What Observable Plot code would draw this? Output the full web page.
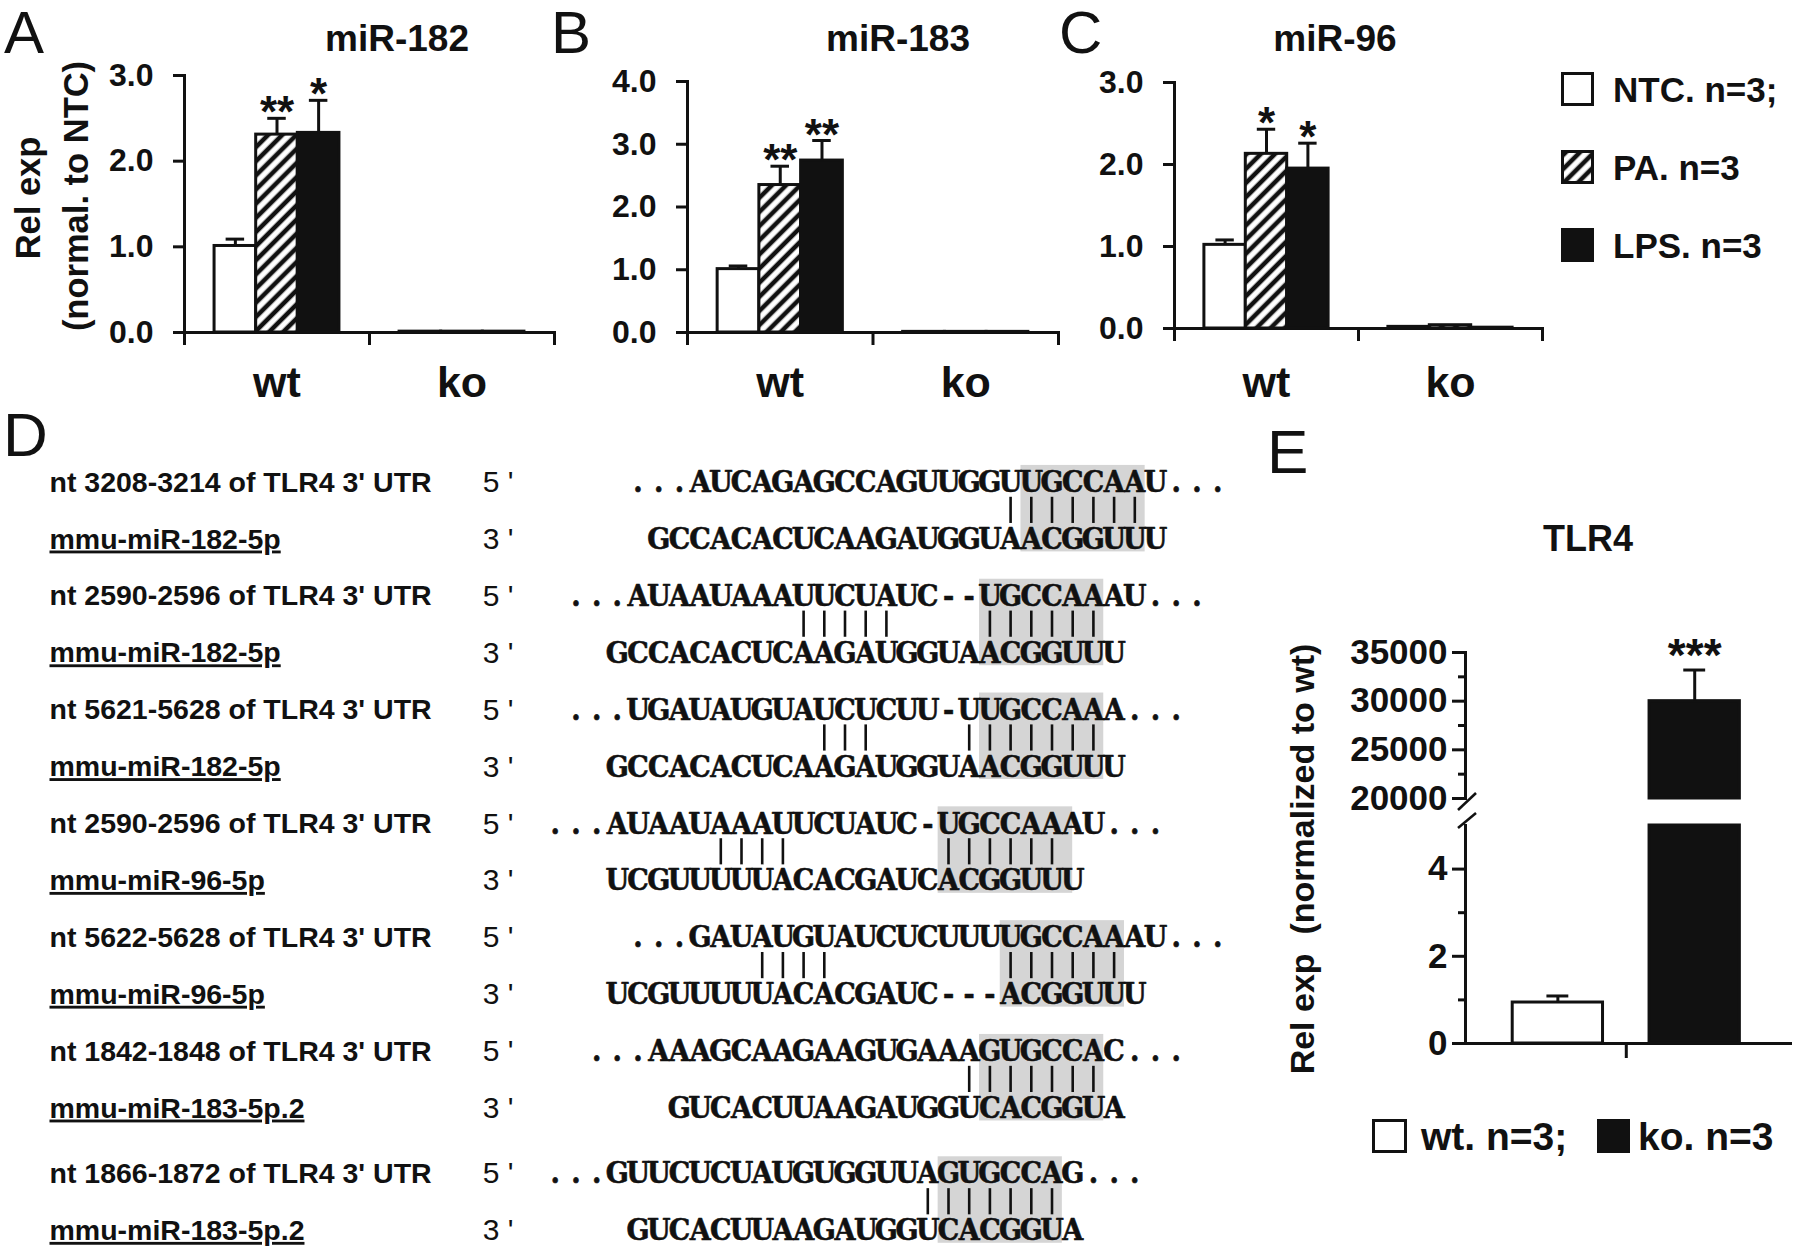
<!DOCTYPE html>
<html><head><meta charset="utf-8">
<script src="https://cdn.jsdelivr.net/npm/d3@7"></script>
<script src="https://cdn.jsdelivr.net/npm/@observablehq/plot@0.6"></script>
<style>
html,body{margin:0;padding:0;background:#fff;}
#fig{position:relative;width:1800px;height:1259px;overflow:hidden;font-family:"Liberation Sans",Arial,sans-serif;color:#111;background:#fff;}
.t{position:absolute;line-height:1;white-space:pre;font-weight:bold;transform:translate(-50%,-50%);}
.tl{position:absolute;line-height:1;white-space:pre;font-weight:bold;transform:translate(0,-50%);}
.letter{position:absolute;line-height:0.8;white-space:pre;font-weight:normal;transform:translate(0,-50%);}
.rot{position:absolute;line-height:1;white-space:pre;font-weight:bold;transform:translate(-50%,-50%) rotate(-90deg);}
.plotwrap{position:absolute;}
.plotwrap svg{max-width:none !important;display:block;}
.bp svg line,.bp svg path{stroke-width:3px;}
</style></head>
<body>
<svg width="0" height="0" style="position:absolute">
  <defs>
    <pattern id="hatch" patternUnits="userSpaceOnUse" width="10" height="10" patternTransform="rotate(45)">
      <rect width="10" height="10" fill="#fff"/>
      <line x1="5" y1="-1" x2="5" y2="11" stroke="#111" stroke-width="4.6"/>
    </pattern>
  </defs>
</svg>
<div id="fig"></div>
<script>
// ---------------- DATA ----------------
const genotypes = ["wt", "ko"];
const treatments = ["NTC", "PA", "LPS"];
const legendLabels = ["NTC. n=3;", "PA. n=3", "LPS. n=3"];

// order: wt-NTC, wt-PA, wt-LPS, ko-NTC, ko-PA, ko-LPS
const mir182Mean = [1.01, 2.31, 2.33, 0.01, 0.01, 0.01];
const mir182Err  = [0.08, 0.19, 0.38, 0, 0, 0];
const mir182Sig  = ["", "**", "*", "", "", ""];

const mir183Mean = [1.01, 2.35, 2.74, 0.01, 0.01, 0.01];
const mir183Err  = [0.05, 0.30, 0.32, 0, 0, 0];
const mir183Sig  = ["", "**", "**", "", "", ""];

const mir96Mean = [1.02, 2.13, 1.95, 0.02, 0.04, 0.01];
const mir96Err  = [0.06, 0.30, 0.31, 0, 0, 0];
const mir96Sig  = ["", "*", "*", "", "", ""];

const ticks3 = [0, 1, 2, 3];
const ticks4 = [0, 1, 2, 3, 4];

// TLR4 (panel E)
const tlrGroups = ["wt", "ko"];
const tlrPos = [1, 2];
const tlrMean = [0.94, 30000];
const tlrErr = [0.15, 3200];
const tlrSig = ["", "***"];
const tlrLegend = ["wt. n=3;", "ko. n=3"];
const tlrUpperTicks = [20000, 25000, 30000, 35000];
const tlrUpperMinor = [22500, 27500, 32500];
const tlrLowerTicks = [0, 2, 4];
const tlrLowerMinor = [1, 3];

// Panel D: alignments
const dLabels = [
  "nt 3208-3214 of TLR4 3' UTR", "mmu-miR-182-5p",
  "nt 2590-2596 of TLR4 3' UTR", "mmu-miR-182-5p",
  "nt 5621-5628 of TLR4 3' UTR", "mmu-miR-182-5p",
  "nt 2590-2596 of TLR4 3' UTR", "mmu-miR-96-5p",
  "nt 5622-5628 of TLR4 3' UTR", "mmu-miR-96-5p",
  "nt 1842-1848 of TLR4 3' UTR", "mmu-miR-183-5p.2",
  "nt 1866-1872 of TLR4 3' UTR", "mmu-miR-183-5p.2"
];
const dEnds = ["5 '", "3 '", "5 '", "3 '", "5 '", "3 '", "5 '", "3 '", "5 '", "3 '", "5 '", "3 '", "5 '", "3 '"];
const dSeqs = [
  "...AUCAGAGCCAGUUGGUUGCCAAU...",
  "GCCACACUCAAGAUGGUAACGGUUU",
  "...AUAAUAAAUUCUAUC--UGCCAAAU...",
  "GCCACACUCAAGAUGGUAACGGUUU",
  "...UGAUAUGUAUCUCUU-UUGCCAAA...",
  "GCCACACUCAAGAUGGUAACGGUUU",
  "...AUAAUAAAUUCUAUC-UGCCAAAU...",
  "UCGUUUUUACACGAUCACGGUUU",
  "...GAUAUGUAUCUCUUUUGCCAAAU...",
  "UCGUUUUUACACGAUC---ACGGUUU",
  "...AAAGCAAGAAGUGAAAGUGCCAC...",
  "GUCACUUAAGAUGGUCACGGUA",
  "...GUUCUCUAUGUGGUUAGUGCCAG...",
  "GUCACUUAAGAUGGUCACGGUA"
];
const dSeqStart = [0, 1, -3, -1, -3, -1, -4, -1, 0, -1, -2, 2, -4, 0];
const dRowPos = [0, 1, 2, 3, 4, 5, 6, 7, 8, 9, 10, 11, 12.15, 13.15];
const dPairCols = [
  [18, 19, 20, 21, 22, 23, 24],
  [8, 9, 10, 11, 12, 17, 18, 19, 20, 21, 22],
  [9, 10, 11, 16, 17, 18, 19, 20, 21, 22],
  [4, 5, 6, 7, 15, 16, 17, 18, 19, 20],
  [6, 7, 8, 9, 18, 19, 20, 21, 22, 23],
  [16, 17, 18, 19, 20, 21, 22],
  [14, 15, 16, 17, 18, 19, 20]
];
const dSeedCols = [[18.5, 24.5], [16.5, 22.5], [16.5, 22.5], [14.5, 21], [17.5, 23.5], [16.5, 22.5], [14.5, 20.5]];

// ---------------- HELPERS ----------------
const FONT = '"Liberation Sans", Arial, sans-serif';
const INK = "#111";
const treatmentFill = ["#fff", "url(#hatch)", INK];
const fig = document.getElementById("fig");

function place(svg, left, top, w, h, cls) {
  const d = document.createElement("div");
  d.className = "plotwrap" + (cls ? " " + cls : "");
  Object.assign(d.style, {left: left + "px", top: top + "px", width: w + "px", height: h + "px"});
  d.appendChild(svg);
  fig.appendChild(d);
}
function txt(cls, s, x, y, size, extra) {
  const d = document.createElement("div");
  d.className = cls;
  d.textContent = s;
  Object.assign(d.style, {left: x + "px", top: y + "px", fontSize: size + "px"}, extra || {});
  fig.appendChild(d);
}
function swatch(x, y, w, h, fill) {
  const ns = "http://www.w3.org/2000/svg";
  const s = document.createElementNS(ns, "svg");
  s.setAttribute("width", w); s.setAttribute("height", h);
  s.style.position = "absolute"; s.style.left = x + "px"; s.style.top = y + "px";
  const r = document.createElementNS(ns, "rect");
  r.setAttribute("x", 1.5); r.setAttribute("y", 1.5);
  r.setAttribute("width", w - 3); r.setAttribute("height", h - 3);
  r.setAttribute("fill", fill); r.setAttribute("stroke", INK); r.setAttribute("stroke-width", 3);
  s.appendChild(r);
  fig.appendChild(s);
}

function barPanel(o) {
  const bw = 0.225, cap = 0.05;
  const rows = [];
  genotypes.forEach((g, gi) => treatments.forEach((t, ti) => {
    const k = gi * 3 + ti;
    const xc = gi + 0.5 + (ti - 1) * bw;
    rows.push({g, t, mean: o.mean[k], err: o.err[k], sig: o.sig[k], xc, x1: xc - bw / 2, x2: xc + bw / 2, fill: treatmentFill[ti]});
  }));
  const withErr = rows.filter(d => d.err > 0);
  const svg = Plot.plot({
    width: o.width, height: o.height,
    marginLeft: o.mLeft, marginRight: o.mRight, marginTop: o.mTop, marginBottom: o.mBottom,
    style: {background: "transparent", fontFamily: FONT, fontSize: "32px", fontWeight: "bold", color: INK},
    x: {domain: [0, 2], ticks: [0, 1, 2], tickFormat: () => "", tickSize: 13, line: true, label: null},
    y: {domain: [0, o.yMax], ticks: o.ticks, tickFormat: d3.format(".1f"), tickSize: 11, tickPadding: 20, line: true, label: null},
    color: {type: "identity"},
    marks: [
      Plot.rect(rows, {x1: "x1", x2: "x2", y1: 0, y2: "mean", fill: "fill", stroke: INK, strokeWidth: 3}),
      Plot.ruleX(withErr, {x: "xc", y1: "mean", y2: d => d.mean + d.err, stroke: INK}),
      Plot.ruleY(withErr, {y: d => d.mean + d.err, x1: d => d.xc - cap, x2: d => d.xc + cap, stroke: INK}),
      Plot.text(withErr.filter(d => d.sig), {x: "xc", y: d => d.mean + d.err, text: "sig", dy: -5, fontSize: 44, fontWeight: "bold"}),
      Plot.text(genotypes, {x: (d, i) => i + 0.5, frameAnchor: "bottom", lineAnchor: "bottom", text: d => d, dy: o.labelDy, fontSize: 43, fontWeight: "bold"})
    ]
  });
  place(svg, o.left, 0, o.width, o.height, "bp");
}

// ---------------- PANELS A-C ----------------
barPanel({mean: mir182Mean, err: mir182Err, sig: mir182Sig, yMax: 3, ticks: ticks3,
  left: 0, width: 600, height: 420, mLeft: 184, mRight: 46, mTop: 75, mBottom: 88, labelDy: 64});
barPanel({mean: mir183Mean, err: mir183Err, sig: mir183Sig, yMax: 4, ticks: ticks4,
  left: 540, width: 560, height: 420, mLeft: 147, mRight: 42, mTop: 81, mBottom: 88, labelDy: 64});
barPanel({mean: mir96Mean, err: mir96Err, sig: mir96Sig, yMax: 3, ticks: ticks3,
  left: 1040, width: 560, height: 420, mLeft: 134, mRight: 58, mTop: 82, mBottom: 92, labelDy: 68});

// panel letters & titles
txt("letter", "A", 4, 33, 60);
txt("letter", "B", 551, 33, 60);
txt("letter", "C", 1059, 33, 60);
txt("letter", "D", 3, 435, 62);
txt("letter", "E", 1267, 452, 62);
txt("t", "miR-182", 397, 38, 37);
txt("t", "miR-183", 898, 38, 37);
txt("t", "miR-96", 1335, 38, 37);
txt("rot", "Rel exp", 28, 198, 34.5);
txt("rot", "(normal. to NTC)", 76, 196, 34.5);

// legend A-C
const legTops = [72, 150, 228];
legendLabels.forEach((l, i) => {
  swatch(1561, legTops[i], 33, 34, treatmentFill[i]);
  txt("tl", l, 1613, legTops[i] + 17, 35);
});

// ---------------- PANEL D ----------------
(function () {
  const chars = [];
  dSeqs.forEach((s, r) => [...s].forEach((ch, i) => chars.push({ch, col: dSeqStart[r] + i, row: dRowPos[r]})));
  const pipes = [];
  dPairCols.forEach((cols, b) => cols.forEach(c => pipes.push({col: c, row: dRowPos[2 * b]})));
  const boxes = dSeedCols.map((s, b) => ({c1: s[0], c2: s[1], r1: dRowPos[2 * b] - 0.3, r2: dRowPos[2 * b + 1] + 0.22}));
  const rowsData = dLabels.map((l, r) => ({label: l, end: dEnds[r], row: dRowPos[r]}));
  const svg = Plot.plot({
    width: 1240, height: 819, margin: 0,
    style: {background: "transparent", fontFamily: FONT, color: INK},
    x: {domain: [-30.797, 29.106], range: [0, 1240], axis: null},
    y: {domain: [-0.738, 13.655], range: [0, 819], axis: null},
    marks: [
      Plot.rect(boxes, {x1: "c1", x2: "c2", y1: "r1", y2: "r2", fill: "#d5d5d5"}),
      Plot.ruleX(pipes, {x: "col", y1: d => d.row + 0.26, y2: d => d.row + 0.72, stroke: INK, strokeWidth: 2.6}),
      Plot.text(chars, {x: "col", y: "row", text: "ch", fontSize: 30, fontWeight: "bold",
        fontFamily: '"DejaVu Serif Condensed", "DejaVu Serif", serif', fill: INK, stroke: INK, strokeWidth: 0.6}),
      Plot.text(rowsData, {x: -28.43, y: "row", text: "label", textAnchor: "start", fontSize: 28.5, fontWeight: "bold", fill: INK}),
      Plot.text(rowsData, {x: -7.5, y: "row", text: "end", textAnchor: "start", fontSize: 30, fill: INK})
    ]
  });
  d3.select(svg).selectAll("text").filter(function () { return this.textContent.startsWith("mmu"); })
    .style("text-decoration", "underline");
  place(svg, 0, 440, 1240, 819);
})();

// ---------------- PANEL E ----------------
(function () {
  const half = 0.33, cap = 0.08;
  const rows = tlrGroups.map((g, i) => ({g, pos: tlrPos[i], mean: tlrMean[i], err: tlrErr[i], sig: tlrSig[i], fill: i ? INK : "#fff"}));
  const xDom = [0.325, 2.7];
  const common = {
    width: 560, marginLeft: 225, marginRight: 10,
    style: {background: "transparent", fontFamily: FONT, fontSize: "35px", fontWeight: "bold", color: INK},
    color: {type: "identity"}
  };
  const up = rows.filter(d => d.mean > tlrUpperTicks[0]);
  const upper = Plot.plot({
    ...common, height: 240, marginTop: 52, marginBottom: 42,
    x: {domain: xDom, axis: null},
    y: {domain: [20000, 35000], clamp: true, ticks: tlrUpperTicks, tickFormat: d3.format("d"), tickSize: 13, tickPadding: 5, line: true, label: null},
    marks: [
      Plot.rect(up, {x1: d => d.pos - half, x2: d => d.pos + half, y1: 0, y2: "mean", fill: "fill", stroke: INK, strokeWidth: 3}),
      Plot.ruleX(up, {x: "pos", y1: "mean", y2: d => d.mean + d.err, stroke: INK}),
      Plot.ruleY(up, {y: d => d.mean + d.err, x1: d => d.pos - cap, x2: d => d.pos + cap, stroke: INK}),
      Plot.text(up.filter(d => d.sig), {x: "pos", y: d => d.mean + d.err, text: "sig", dy: -14, fontSize: 46, fontWeight: "bold"}),
      Plot.ruleY(tlrUpperMinor, {x1: xDom[0], x2: xDom[0], insetLeft: -7, stroke: INK})
    ]
  });
  place(upper, 1240, 600, 560, 240, "bp");
  const lowErr = rows.filter(d => d.mean + d.err < 5);
  const lower = Plot.plot({
    ...common, height: 320, marginTop: 25, marginBottom: 77,
    x: {domain: xDom, ticks: [1.5], tickFormat: () => "", tickSize: 15, line: true, label: null},
    y: {domain: [0, 5], clamp: true, ticks: tlrLowerTicks, tickFormat: d3.format("d"), tickSize: 13, tickPadding: 5, line: true, label: null},
    marks: [
      Plot.rect(rows, {x1: d => d.pos - half, x2: d => d.pos + half, y1: 0, y2: "mean", fill: "fill", stroke: INK, strokeWidth: 3}),
      Plot.ruleX(lowErr, {x: "pos", y1: "mean", y2: d => d.mean + d.err, stroke: INK}),
      Plot.ruleY(lowErr, {y: d => d.mean + d.err, x1: d => d.pos - cap, x2: d => d.pos + cap, stroke: INK}),
      Plot.ruleY(tlrLowerMinor, {x1: xDom[0], x2: xDom[0], insetLeft: -7, stroke: INK})
    ]
  });
  place(lower, 1240, 800, 560, 320, "bp");

  // axis break marks
  const ns = "http://www.w3.org/2000/svg";
  const s = document.createElementNS(ns, "svg");
  s.setAttribute("width", 30); s.setAttribute("height", 50);
  Object.assign(s.style, {position: "absolute", left: "1452px", top: "788px"});
  [[6, 22, 24, 5], [6, 40, 24, 25]].forEach(([a, b, c, e]) => {
    const l = document.createElementNS(ns, "line");
    l.setAttribute("x1", a); l.setAttribute("y1", b); l.setAttribute("x2", c); l.setAttribute("y2", e);
    l.setAttribute("stroke", INK); l.setAttribute("stroke-width", 2.5);
    s.appendChild(l);
  });
  fig.appendChild(s);

  txt("t", "TLR4", 1588, 539, 36);
  txt("rot", "Rel exp  (normalized to wt)", 1302, 859, 34);
  swatch(1372, 1119, 35, 34, "#fff");
  txt("tl", tlrLegend[0], 1421, 1136, 39);
  swatch(1597, 1119, 33, 34, INK);
  txt("tl", tlrLegend[1], 1638, 1136, 39);
})();
</script>
</body></html>
